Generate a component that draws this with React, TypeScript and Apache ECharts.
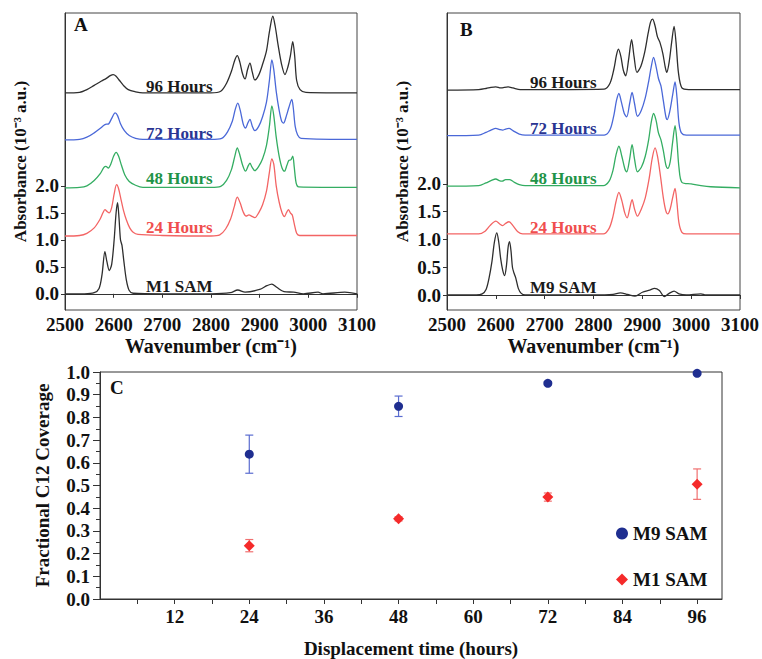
import React, { useEffect, useRef } from "react";
import * as echarts from "echarts";

const FONT = '"Liberation Serif", "Times New Roman", serif';

// ---------- Panel A : spectra (wavenumber, absorbance) ----------
const specA_M1: number[][] = [
  [2500, 0.0], [2540, 0.0], [2560, 0.02], [2570, 0.1], [2576, 0.35], [2582, 0.78], [2586, 0.6], [2591, 0.43],
  [2596, 0.55], [2601, 1.0], [2605, 1.5], [2608, 1.69], [2611, 1.4], [2614, 1.0], [2617, 0.9], [2621, 0.6],
  [2626, 0.26], [2632, 0.06], [2640, 0.01], [2700, 0.0], [2800, 0.0], [2840, 0.02], [2855, 0.07], [2870, 0.03],
  [2900, 0.08], [2915, 0.15], [2925, 0.18], [2935, 0.12], [2950, 0.04], [2970, 0.03], [2990, 0.0], [3020, 0.03],
  [3030, 0.0], [3075, 0.03], [3100, 0.0],
];
const specA_24h: number[][] = [
  [2500, 1.07], [2530, 1.08], [2545, 1.12], [2560, 1.22], [2572, 1.38], [2578, 1.5], [2582, 1.56], [2587, 1.52],
  [2591, 1.5], [2596, 1.6], [2601, 1.85], [2606, 2.02], [2610, 1.95], [2615, 1.75], [2620, 1.55], [2626, 1.37],
  [2633, 1.22], [2640, 1.14], [2650, 1.1], [2700, 1.08], [2800, 1.07], [2818, 1.09], [2830, 1.2], [2840, 1.38],
  [2848, 1.62], [2854, 1.79], [2860, 1.68], [2866, 1.52], [2872, 1.44], [2878, 1.46], [2883, 1.44], [2890, 1.41],
  [2898, 1.5], [2906, 1.65], [2914, 1.9], [2920, 2.25], [2925, 2.5], [2929, 2.4], [2934, 2.0], [2940, 1.7],
  [2946, 1.5], [2951, 1.43], [2955, 1.5], [2959, 1.56], [2963, 1.5], [2967, 1.46], [2971, 1.3], [2976, 1.12],
  [2982, 1.08], [3100, 1.08],
];
const specA_48h: number[][] = [
  [2500, 1.96], [2530, 1.97], [2545, 2.0], [2560, 2.1], [2572, 2.22], [2580, 2.34], [2584, 2.36], [2589, 2.33],
  [2594, 2.4], [2600, 2.55], [2605, 2.62], [2610, 2.55], [2616, 2.38], [2623, 2.2], [2632, 2.08], [2645, 2.01],
  [2660, 1.97], [2800, 1.97], [2820, 1.99], [2832, 2.1], [2842, 2.3], [2849, 2.55], [2854, 2.7], [2859, 2.58],
  [2865, 2.38], [2871, 2.27], [2876, 2.36], [2880, 2.42], [2884, 2.35], [2890, 2.28], [2898, 2.36], [2906, 2.5],
  [2914, 2.75], [2920, 3.1], [2925, 3.48], [2929, 3.3], [2934, 2.9], [2940, 2.55], [2946, 2.33], [2951, 2.27],
  [2956, 2.38], [2960, 2.47], [2964, 2.48], [2968, 2.55], [2971, 2.35], [2975, 2.05], [2980, 1.98], [3100, 1.97],
];
const specA_72h: number[][] = [
  [2500, 2.85], [2530, 2.86], [2545, 2.9], [2560, 2.98], [2572, 3.06], [2580, 3.12], [2585, 3.14], [2590, 3.15],
  [2596, 3.25], [2603, 3.35], [2608, 3.3], [2614, 3.15], [2622, 3.02], [2632, 2.93], [2645, 2.88], [2660, 2.86],
  [2800, 2.86], [2822, 2.88], [2834, 3.0], [2844, 3.2], [2850, 3.42], [2855, 3.53], [2860, 3.4], [2866, 3.15],
  [2871, 3.07], [2876, 3.17], [2880, 3.23], [2885, 3.1], [2890, 3.02], [2898, 3.1], [2906, 3.28], [2914, 3.55],
  [2920, 3.95], [2925, 4.33], [2929, 4.15], [2934, 3.75], [2940, 3.4], [2945, 3.2], [2949, 3.16], [2955, 3.3],
  [2960, 3.45], [2966, 3.6], [2969, 3.45], [2973, 3.1], [2978, 2.94], [2985, 2.88], [3100, 2.86],
];
const specA_96h: number[][] = [
  [2500, 3.72], [2530, 3.73], [2545, 3.78], [2560, 3.86], [2575, 3.94], [2585, 3.99], [2593, 4.04], [2599, 4.06],
  [2605, 4.03], [2612, 3.95], [2620, 3.86], [2630, 3.78], [2645, 3.74], [2660, 3.72], [2800, 3.72], [2820, 3.75],
  [2832, 3.9], [2842, 4.12], [2849, 4.33], [2854, 4.41], [2859, 4.3], [2865, 4.07], [2870, 3.98], [2875, 4.15],
  [2880, 4.27], [2885, 4.1], [2890, 3.96], [2898, 4.05], [2906, 4.25], [2914, 4.5], [2920, 4.85], [2927, 5.14],
  [2932, 4.95], [2938, 4.6], [2945, 4.25], [2952, 4.06], [2958, 4.2], [2963, 4.4], [2968, 4.67], [2972, 4.4],
  [2976, 3.95], [2983, 3.78], [2995, 3.73], [3100, 3.72],
];

// ---------- Panel B : spectra ----------
const specB_M9: number[][] = [
  [2500, 0], [2560, 0], [2572, 0.02], [2580, 0.1], [2586, 0.3], [2592, 0.6], [2597, 0.95], [2602, 1.12],
  [2606, 0.95], [2610, 0.65], [2614, 0.45], [2618, 0.35], [2622, 0.55], [2625, 0.85], [2628, 0.96], [2631, 0.8],
  [2634, 0.5], [2637, 0.4], [2641, 0.3], [2646, 0.12], [2652, 0.03], [2660, 0], [2800, 0], [2840, 0.01],
  [2855, 0.04], [2870, 0.01], [2885, -0.02], [2900, 0.05], [2915, 0.09], [2925, 0.12], [2935, 0.08], [2945, -0.03],
  [2955, 0.03], [2965, 0.07], [2975, 0.02], [2990, 0], [3020, 0.02], [3030, 0], [3100, 0],
];
const specB_24h: number[][] = [
  [2500, 1.1], [2565, 1.1], [2578, 1.15], [2588, 1.25], [2600, 1.33], [2608, 1.28], [2614, 1.25], [2620, 1.29],
  [2627, 1.32], [2635, 1.25], [2645, 1.14], [2655, 1.1], [2820, 1.1], [2832, 1.2], [2840, 1.42], [2846, 1.68],
  [2852, 1.85], [2858, 1.7], [2864, 1.48], [2869, 1.39], [2874, 1.55], [2879, 1.72], [2884, 1.55], [2890, 1.42],
  [2898, 1.55], [2906, 1.75], [2914, 2.1], [2920, 2.45], [2926, 2.65], [2931, 2.5], [2937, 2.15], [2943, 1.75],
  [2948, 1.52], [2952, 1.46], [2957, 1.55], [2962, 1.75], [2967, 1.92], [2971, 1.65], [2975, 1.3], [2981, 1.13],
  [2990, 1.1], [3100, 1.1],
];
const specB_48h: number[][] = [
  [2500, 1.96], [2565, 1.97], [2580, 2.02], [2590, 2.06], [2600, 2.09], [2607, 2.06], [2613, 2.05], [2620, 2.08],
  [2628, 2.08], [2636, 2.04], [2648, 1.99], [2660, 1.97], [2820, 1.97], [2832, 2.05], [2840, 2.25], [2846, 2.52],
  [2852, 2.68], [2858, 2.5], [2864, 2.28], [2868, 2.22], [2874, 2.45], [2879, 2.71], [2884, 2.45], [2890, 2.22],
  [2898, 2.3], [2906, 2.5], [2913, 2.8], [2918, 3.1], [2923, 3.27], [2928, 3.15], [2933, 2.92], [2938, 2.8],
  [2943, 2.6], [2948, 2.35], [2952, 2.28], [2957, 2.4], [2962, 2.75], [2967, 3.05], [2971, 2.75], [2975, 2.3],
  [2981, 2.03], [3000, 2.0], [3020, 1.97], [3040, 1.95], [3100, 1.93],
];
const specB_72h: number[][] = [
  [2500, 2.87], [2565, 2.88], [2580, 2.93], [2590, 2.97], [2600, 3.0], [2608, 2.98], [2614, 2.97], [2620, 2.99],
  [2627, 3.0], [2635, 2.96], [2648, 2.9], [2660, 2.88], [2822, 2.88], [2834, 2.98], [2842, 3.25], [2847, 3.5],
  [2852, 3.63], [2857, 3.48], [2863, 3.27], [2868, 3.21], [2874, 3.45], [2879, 3.65], [2884, 3.45], [2890, 3.22],
  [2898, 3.33], [2906, 3.55], [2913, 3.85], [2918, 4.1], [2923, 4.28], [2928, 4.12], [2933, 3.9], [2938, 3.77],
  [2943, 3.5], [2948, 3.22], [2951, 3.16], [2956, 3.3], [2962, 3.6], [2967, 3.84], [2971, 3.55], [2975, 3.1],
  [2980, 2.92], [2990, 2.88], [3100, 2.88],
];
const specB_96h: number[][] = [
  [2500, 3.69], [2565, 3.7], [2580, 3.72], [2590, 3.74], [2600, 3.75], [2610, 3.73], [2625, 3.75], [2635, 3.73],
  [2650, 3.7], [2822, 3.71], [2834, 3.82], [2842, 4.08], [2847, 4.32], [2851, 4.43], [2856, 4.3], [2861, 4.05],
  [2866, 3.95], [2872, 4.25], [2878, 4.6], [2883, 4.3], [2889, 4.01], [2897, 4.12], [2905, 4.38], [2912, 4.72],
  [2917, 4.92], [2921, 4.97], [2926, 4.85], [2931, 4.65], [2936, 4.55], [2942, 4.35], [2947, 4.1], [2950, 4.01],
  [2955, 4.2], [2960, 4.55], [2965, 4.84], [2969, 4.55], [2974, 4.0], [2981, 3.73], [2995, 3.7], [3100, 3.7],
];

const specTickValues = [0, 0.5, 1, 1.5, 2];

// ---------- Panel C : coverage vs time ----------
const hours = [24, 48, 72, 96];
const m9Mean = [0.638, 0.849, 0.95, 0.994];
const m9Err = [0.084, 0.045, 0.007, 0.006];
const m1Mean = [0.235, 0.353, 0.449, 0.506];
const m1Err = [0.027, 0.009, 0.018, 0.067];
const hourLabelValues = [12, 24, 36, 48, 60, 72, 84, 96];
const hourTickValues = [6, 12, 18, 24, 30, 36, 42, 48, 54, 60, 66, 72, 78, 84, 90, 96];

const COL_BLACK = "#2e2e2e";
const COL_BLUE = "#4a68d8";
const COL_GREEN = "#34ad62";
const COL_RED = "#f36464";

export default function App() {
  const ref = useRef<HTMLDivElement>(null);

  useEffect(() => {
    if (!ref.current) return;
    const chart = echarts.init(ref.current, undefined, { renderer: "svg" });

    const axisFont = { fontFamily: FONT, fontWeight: "bold" as const, color: "#111" };

    const specXAxis = (gridIndex: number) => ({
      type: "value" as const,
      gridIndex,
      min: 2500,
      max: 3100,
      interval: 100,
      name: "Wavenumber (cm⁻¹)",
      nameLocation: "middle" as const,
      nameGap: 26,
      nameTextStyle: { ...axisFont, fontSize: 20 },
      axisLine: { show: true, lineStyle: { color: "#333", width: 1 } },
      axisTick: { show: true, length: 4, lineStyle: { color: "#333" } },
      axisLabel: { ...axisFont, fontSize: 19, margin: 5, formatter: (v: number) => String(v) },
      splitLine: { show: false },
    });
    const specYAxis = (gridIndex: number, min: number, max: number) => ({
      type: "value" as const,
      gridIndex,
      min,
      max,
      name: "Absorbance (10⁻³ a.u.)",
      nameLocation: "middle" as const,
      nameGap: 36,
      nameTextStyle: { ...axisFont, fontSize: 17 },
      axisLine: { show: true, lineStyle: { color: "#333", width: 1 } },
      axisTick: { show: true, length: 4, customValues: specTickValues, lineStyle: { color: "#333" } },
      axisLabel: {
        ...axisFont,
        fontSize: 19,
        margin: 6,
        customValues: specTickValues,
        formatter: (v: number) => v.toFixed(1),
      },
      splitLine: { show: false },
    });

    const lineSeries = (name: string, data: number[][], color: string, idx: number) => ({
      type: "line" as const,
      name,
      xAxisIndex: idx,
      yAxisIndex: idx,
      data,
      smooth: 0.3,
      showSymbol: false,
      symbol: "none",
      lineStyle: { color, width: 1.3 },
      silent: true,
    });

    const errorSeries = (data: number[][], color: string) => ({
      type: "custom" as const,
      xAxisIndex: 2,
      yAxisIndex: 2,
      data,
      silent: true,
      z: 2,
      renderItem: (_params: any, api: any) => {
        const x = api.value(0);
        const lo = api.coord([x, api.value(1)]);
        const hi = api.coord([x, api.value(2)]);
        const w = 4;
        const style = { stroke: color, lineWidth: 1.2 };
        return {
          type: "group",
          children: [
            { type: "line", shape: { x1: lo[0], y1: lo[1], x2: hi[0], y2: hi[1] }, style },
            { type: "line", shape: { x1: lo[0] - w, y1: lo[1], x2: lo[0] + w, y2: lo[1] }, style },
            { type: "line", shape: { x1: hi[0] - w, y1: hi[1], x2: hi[0] + w, y2: hi[1] }, style },
          ],
        };
      },
    });

    const labelText = (text: string, x: number, y: number, color: string, size = 17) => ({
      type: "text" as const,
      x,
      y,
      style: {
        text,
        fill: color,
        fontFamily: FONT,
        fontWeight: "bold",
        fontSize: size,
        verticalAlign: "middle",
        align: "left",
      },
    });

    chart.setOption({
      animation: false,
      backgroundColor: "#ffffff",
      grid: [
        { left: 65, top: 13, width: 292, height: 297, show: true, borderColor: "#444", borderWidth: 1 },
        { left: 447, top: 13, width: 293, height: 297, show: true, borderColor: "#444", borderWidth: 1 },
        { left: 100, top: 372, width: 622, height: 228, show: true, borderColor: "#333", borderWidth: 1 },
      ],
      xAxis: [
        specXAxis(0),
        specXAxis(1),
        {
          type: "value",
          gridIndex: 2,
          min: 0,
          max: 100,
          name: "Displacement time (hours)",
          nameLocation: "middle",
          nameGap: 40,
          nameTextStyle: { ...axisFont, fontSize: 19 },
          axisLine: { show: true, lineStyle: { color: "#333", width: 1 } },
          axisTick: { show: true, length: 5, customValues: hourTickValues, lineStyle: { color: "#333" } },
          axisLabel: { ...axisFont, fontSize: 19, margin: 8, customValues: hourLabelValues },
          splitLine: { show: false },
        },
      ],
      yAxis: [
        specYAxis(0, -0.3, 5.2),
        specYAxis(1, -0.27, 5.08),
        {
          type: "value",
          gridIndex: 2,
          min: 0,
          max: 1,
          interval: 0.1,
          name: "Fractional C12 Coverage",
          nameLocation: "middle",
          nameGap: 48,
          nameTextStyle: { ...axisFont, fontSize: 19 },
          axisLine: { show: true, lineStyle: { color: "#333", width: 1 } },
          axisTick: { show: true, length: 7, lineStyle: { color: "#333" } },
          minorTick: { show: true, splitNumber: 2, length: 4, lineStyle: { color: "#333" } },
          axisLabel: { ...axisFont, fontSize: 19, margin: 10, formatter: (v: number) => v.toFixed(1) },
          splitLine: { show: false },
        },
      ],
      legend: {
        data: [
          { name: "M9 SAM", icon: "circle" },
          { name: "M1 SAM", icon: "diamond" },
        ],
        orient: "vertical",
        left: 611,
        top: 519,
        itemWidth: 12,
        itemHeight: 12,
        itemGap: 27,
        selectedMode: false,
        textStyle: { ...axisFont, fontSize: 19, color: "#111" },
      },
      series: [
        lineSeries("A M1", specA_M1, COL_BLACK, 0),
        lineSeries("A 24", specA_24h, COL_RED, 0),
        lineSeries("A 48", specA_48h, COL_GREEN, 0),
        lineSeries("A 72", specA_72h, COL_BLUE, 0),
        lineSeries("A 96", specA_96h, COL_BLACK, 0),
        lineSeries("B M9", specB_M9, COL_BLACK, 1),
        lineSeries("B 24", specB_24h, COL_RED, 1),
        lineSeries("B 48", specB_48h, COL_GREEN, 1),
        lineSeries("B 72", specB_72h, COL_BLUE, 1),
        lineSeries("B 96", specB_96h, COL_BLACK, 1),
        errorSeries(hours.map((h, i) => [h, m9Mean[i] - m9Err[i], m9Mean[i] + m9Err[i]]), "#5a6cd0"),
        errorSeries(hours.map((h, i) => [h, m1Mean[i] - m1Err[i], m1Mean[i] + m1Err[i]]), "#f07070"),
        {
          type: "scatter",
          name: "M9 SAM",
          xAxisIndex: 2,
          yAxisIndex: 2,
          symbol: "circle",
          symbolSize: 9,
          itemStyle: { color: "#1f2e90", opacity: 1 },
          data: hours.map((h, i) => [h, m9Mean[i]]),
          z: 3,
        },
        {
          type: "scatter",
          name: "M1 SAM",
          xAxisIndex: 2,
          yAxisIndex: 2,
          symbol: "diamond",
          symbolSize: 11,
          itemStyle: { color: "#f52a2a", opacity: 1 },
          data: hours.map((h, i) => [h, m1Mean[i]]),
          z: 3,
        },
      ],
      graphic: [
        labelText("96 Hours", 146, 86, "#1a1a1a"),
        labelText("72 Hours", 146, 133, "#2a3592"),
        labelText("48 Hours", 146, 178, "#1f9448"),
        labelText("24 Hours", 146, 227, "#f04e4e"),
        labelText("M1 SAM", 146, 286, "#1a1a1a"),
        labelText("96 Hours", 530, 82, "#1a1a1a"),
        labelText("72 Hours", 530, 128, "#2a3592"),
        labelText("48 Hours", 530, 178, "#1f9448"),
        labelText("24 Hours", 530, 227, "#f04e4e"),
        labelText("M9 SAM", 530, 287, "#1a1a1a"),
        labelText("A", 74, 24, "#111", 19),
        labelText("B", 460, 29, "#111", 19),
        labelText("C", 110, 387, "#111", 19),
      ],
    });

    return () => chart.dispose();
  }, []);

  return (
    <div
      ref={ref}
      style={{ position: "fixed", left: 0, top: 0, width: 762, height: 659, background: "#fff" }}
    />
  );
}
